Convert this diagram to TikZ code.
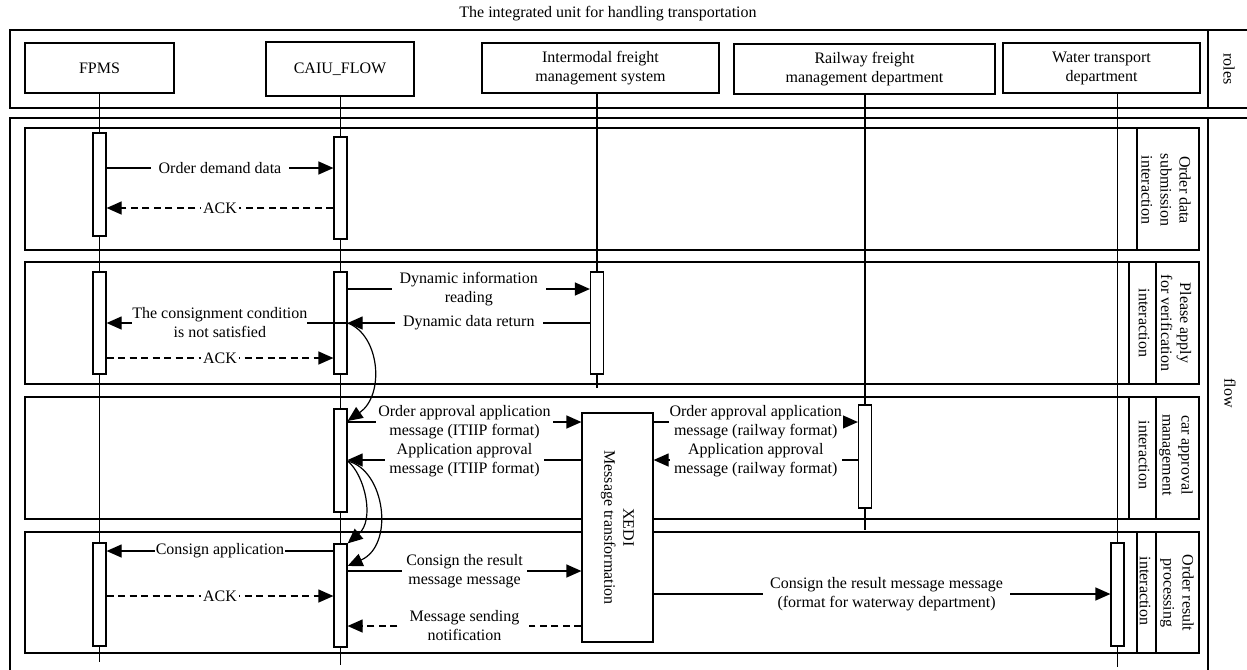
\documentclass[tikz,border=0pt]{standalone}
\usepackage{fontspec}
\setmainfont{Liberation Serif}
\usetikzlibrary{arrows.meta}
\begin{document}
\begin{tikzpicture}[x=1pt,y=-1pt,line width=1.2pt,
  lbl/.style={font=\fontsize{16}{19}\selectfont, align=center},
  rolebox/.style={draw, fill=white, lbl, inner sep=0pt},
  actbar/.style={draw, fill=white, minimum width=13pt, inner sep=0pt},
  msg/.style={-{Triangle[length=15pt,width=13pt]}},
  ret/.style={msg, dash pattern=on 7pt off 4.5pt},
  mlab/.style={lbl, fill=white, inner xsep=8pt, inner ysep=1pt},
  vlab/.style={lbl, rotate=-90},
]
\useasboundingbox (0,0) rectangle (1247,669);
\clip (0,0) rectangle (1247,669);

% title
\node[lbl] (title) at (608,14) {The integrated unit for handling transportation};

% outer frames
\draw (10,30) rectangle (1260,108);
\draw (1208,30) -- (1208,108);
\node[vlab] (roles) at (1229,69) {roles};
\draw (10,118) rectangle (1260,700);
\draw (1208,118) -- (1208,700);
\node[vlab] (flow) at (1230,393) {flow};

% sections
\draw (25,128) rectangle (1199,250);
\draw (25,262) rectangle (1199,384);
\draw (25,397) rectangle (1199,519);
\draw (25,532) rectangle (1199,653);

% section labels
\draw (1137,128) -- (1137,250);
\node[vlab] (s1) at (1166,190) {Order data\\submission\\interaction};
\draw (1129,262) -- (1129,384);
\draw (1156,262) -- (1156,384);
\node[vlab] (s2a) at (1176,323) {Please apply\\for verification};
\node[vlab] (s2b) at (1144,323) {interaction};
\draw (1129,397) -- (1129,519);
\draw (1156,397) -- (1156,519);
\node[vlab] (s3a) at (1176,455) {car approval\\management};
\node[vlab] (s3b) at (1144,455) {interaction};
\draw (1137,532) -- (1137,653);
\draw (1156,532) -- (1156,653);
\node[vlab] (s4a) at (1177,593) {Order result\\processing};
\node[vlab] (s4b) at (1145,591) {interaction};

% role boxes
\node[rolebox, minimum width=149pt, minimum height=50pt] (rF) at (99.5,68) {FPMS};
\node[rolebox, minimum width=148pt, minimum height=54pt] (rC) at (340,69) {CAIU\_FLOW};
\node[rolebox, minimum width=237pt, minimum height=50pt] (rI) at (600.5,68) {Intermodal freight\\management system};
\node[rolebox, minimum width=261pt, minimum height=50pt] (rR) at (864.5,69) {Railway freight\\management department};
\node[rolebox, minimum width=197pt, minimum height=50pt] (rW) at (1101.5,68) {Water transport\\department};

% lifeline ends
\coordinate (eF) at (99.5,662);
\coordinate (eC) at (340.5,665);
\coordinate (eI) at (597,388);
\coordinate (eR) at (865,530);
\coordinate (eW) at (1117.5,667);
\draw (eF |- rF.south) -- (eF);
\draw (eC |- rC.south) -- (eC);
\draw (eI |- rI.south) -- (eI);
\draw (eR |- rR.south) -- (eR);
\draw (eW |- rW.south) -- (eW);

% activation bars
\node[actbar, minimum height=103pt] (aF1) at (99.5,184.5) {};
\node[actbar, minimum height=102pt] (aC1) at (340.5,188) {};
\node[actbar, minimum height=102pt] (aF2) at (99.5,323) {};
\node[actbar, minimum height=102pt] (aC2) at (340.5,323) {};
\node[actbar, minimum height=102pt] (aI2) at (597,323) {};
\node[actbar, minimum height=103pt] (aC3) at (340.5,460.5) {};
\node[actbar, minimum height=103pt] (aR3) at (865,456.5) {};
\node[actbar, minimum height=103pt] (aF4) at (99.5,594.5) {};
\node[actbar, minimum height=103pt] (aC4) at (340.5,595.5) {};
\node[actbar, minimum height=103pt] (aW4) at (1117.5,594.5) {};
\node[draw, fill=white, minimum width=71pt, minimum height=229pt, inner sep=0pt] (xedi) at (617.5,527.5) {};
\node[vlab] (xedit) at (xedi.center) {XEDI\\Message transformation};

% section 1
\draw[msg] (aF1.east |- 0,168) -- node[mlab]{Order demand data} (aC1.west |- 0,168);
\draw[ret] (aC1.west |- 0,208) -- node[mlab, inner xsep=2pt]{ACK} (aF1.east |- 0,208);

% section 2
\draw[msg] (aC2.east |- 0,289) -- node[mlab]{Dynamic information\\reading} (aI2.west |- 0,289);
\draw[msg] (aI2.west |- 0,323) -- node[mlab]{Dynamic data return} (aC2.east |- 0,323);
\draw[msg] (aC2.east |- 0,323) -- node[mlab, pos=0.53, inner xsep=0pt]{The consignment condition\\is not satisfied} (aF2.east |- 0,323);
\draw[ret] (aF2.east |- 0,358) -- node[mlab, inner xsep=2pt]{ACK} (aC2.west |- 0,358);
\draw[msg] (aC2.east |- 0,323) .. controls (380,335) and (385,395) .. (aC3.east |- 0,421);

% section 3
\draw[msg] (aC3.east |- 0,422) -- node[mlab, inner xsep=2pt]{Order approval application\\message (ITIIP format)} (xedi.west |- 0,422);
\draw[msg] (xedi.west |- 0,460) -- node[mlab, inner xsep=4pt]{Application approval\\message (ITIIP format)} (aC3.east |- 0,460);
\draw[msg] (xedi.east |- 0,422) -- node[mlab, inner xsep=1pt]{Order approval application\\message (railway format)} (aR3.west |- 0,422);
\draw[msg] (aR3.west |- 0,460) -- node[mlab, inner xsep=4pt]{Application approval\\message (railway format)} (xedi.east |- 0,460);
\draw[msg] (aC3.east |- 0,461) .. controls (365,475) and (375,520) .. (aC4.north east);
\draw[msg] (aC3.east |- 0,461) .. controls (385,470) and (395,545) .. (aC4.east |- 0,566);

% section 4
\draw[msg] (aC4.west |- 0,551) -- node[mlab, inner xsep=1pt]{Consign application} (aF4.east |- 0,551);
\draw[msg] (aC4.east |- 0,571) -- node[mlab, inner xsep=4pt]{Consign the result\\message message} (xedi.west |- 0,571);
\draw[ret] (aF4.east |- 0,596) -- node[mlab, inner xsep=2pt]{ACK} (aC4.west |- 0,596);
\draw[ret] (xedi.west |- 0,626) -- node[mlab, inner xsep=10pt]{Message sending\\notification} (aC4.east |- 0,626);
\draw[msg] (xedi.east |- 0,594) -- node[mlab, pos=0.51, inner xsep=7pt]{Consign the result message message\\(format for waterway department)} (aW4.west |- 0,594);
\end{tikzpicture}
\end{document}
